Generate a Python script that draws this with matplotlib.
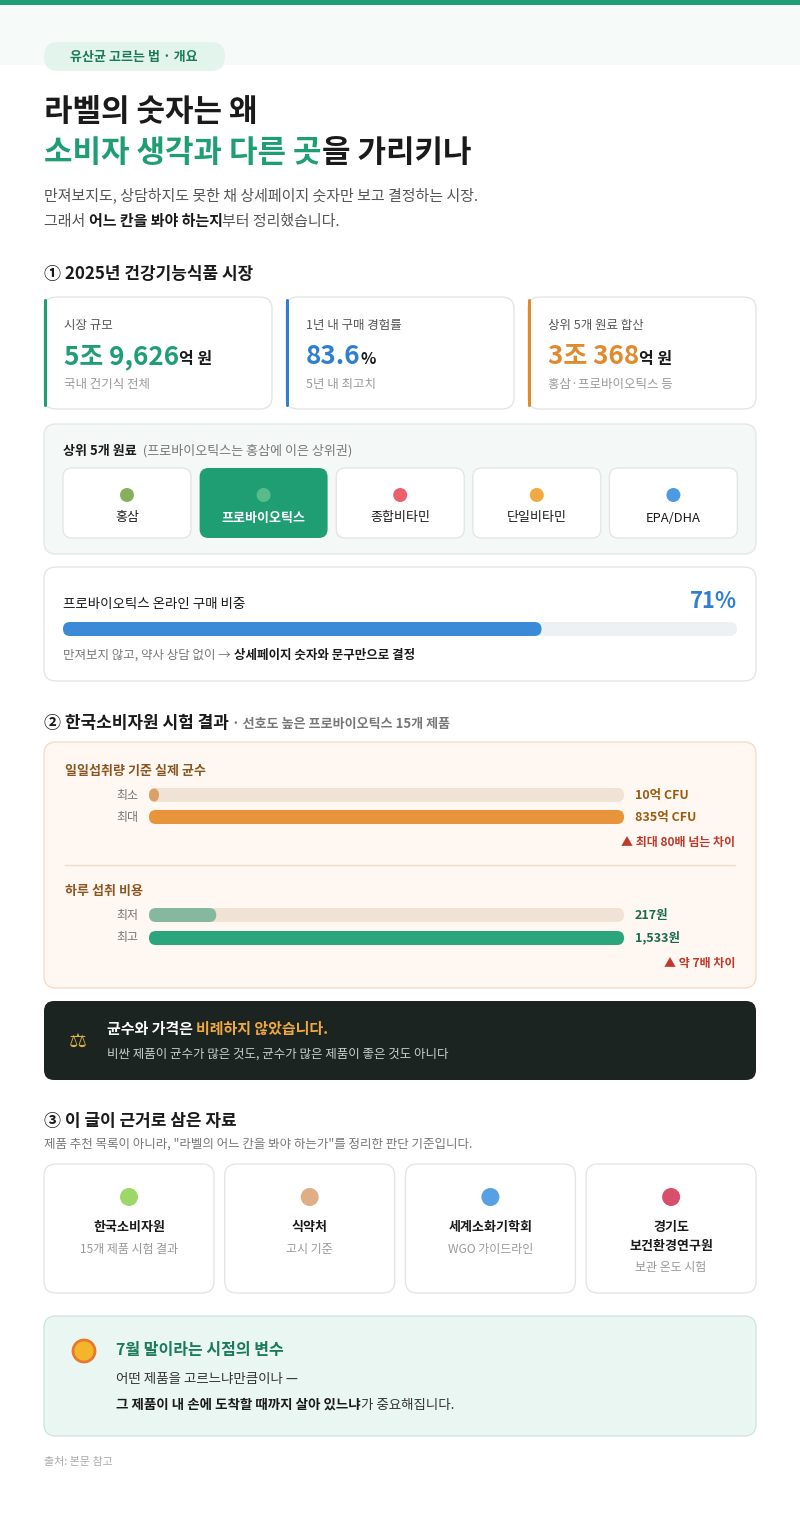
import matplotlib
matplotlib.use("Agg")
import matplotlib.pyplot as plt
from matplotlib.patches import FancyBboxPatch, Rectangle, Circle

plt.rcParams["font.family"] = ["Noto Sans CJK KR", "DejaVu Sans"]

# ---- data ----
kpi_labels = ["시장 규모", "1년 내 구매 경험률", "상위 5개 원료 합산"]
kpi_big = [["5조 9,626", "억 원"], ["83.6", "%"], ["3조 368", "억 원"]]
kpi_subs = ["국내 건기식 전체", "5년 내 최고치", "홍삼·프로바이오틱스 등"]
kpi_colors = ["#1f9e74", "#2f7fd0", "#e08a2c"]

top5 = ["홍삼", "프로바이오틱스", "종합비타민", "단일비타민", "EPA/DHA"]
top5_icon_colors = ["#7aa84a", "#5fbf8c", "#e8505b", "#f0a030", "#3a8fe0"]

online_share = 71

cfu_labels = ["최소", "최대"]
cfu_values = [10, 835]          # 억 CFU
cfu_text = ["10억 CFU", "835억 CFU"]
cost_labels = ["최저", "최고"]
cost_values = [217, 1533]       # 원
cost_text = ["217원", "1,533원"]

sources = ["한국소비자원", "식약처", "세계소화기학회", "경기도\n보건환경연구원"]
source_subs = ["15개 제품 시험 결과", "고시 기준", "WGO 가이드라인", "보관 온도 시험"]
source_icon_colors = ["#8cd050", "#d9a070", "#3a8fe0", "#d03050"]

GREEN = "#1f9e74"
DARK = "#1a1a1a"
GRAY = "#777777"

fig = plt.figure(figsize=(8, 15.2), dpi=100)
ax = fig.add_axes([0, 0, 1, 1])
ax.set_xlim(0, 800)
ax.set_ylim(1520, 0)
ax.axis("off")
fig.patch.set_facecolor("white")
renderer = fig.canvas.get_renderer()


def pt(px):
    return px * 0.72


def box(x, y, w, h, fc="white", ec="#e3e6e8", r=12, lw=1, z=1):
    p = FancyBboxPatch((x, y), w, h, boxstyle=f"round,pad=0,rounding_size={r}",
                       fc=fc, ec=ec, lw=lw, zorder=z, mutation_aspect=1)
    ax.add_patch(p)
    return p


def run(x, y, segs, ha="left"):
    # segs: (text, px, color, weight)
    items = []
    total = 0
    for s, px, c, wgt in segs:
        t = ax.text(0, y, s, fontsize=pt(px), color=c, fontweight=wgt,
                    va="baseline", ha="left", zorder=5)
        wd = t.get_window_extent(renderer).width
        items.append((t, wd))
        total += wd
    if ha == "center":
        x = x - total / 2
    elif ha == "right":
        x = x - total
    for t, wd in items:
        t.set_x(x)
        x += wd


# top strip
ax.add_patch(Rectangle((0, 0), 800, 5, fc=GREEN, ec="none"))
ax.add_patch(Rectangle((0, 5), 800, 60, fc="#f6fbf9", ec="none", zorder=0))

# tag
box(44, 42, 181, 29, fc="#e3f4ed", ec="none", r=14)
ax.text(134, 57, "유산균 고르는 법 · 개요", fontsize=pt(13), color="#1a7a5a",
        fontweight="bold", ha="center", va="center")

# title
run(44, 121, [("라벨의 숫자는 왜", 31, DARK, "bold")])
run(44, 162, [("소비자 생각과 다른 곳", 31, GREEN, "bold"), ("을 가리키나", 31, DARK, "bold")])
run(44, 200, [("만져보지도, 상담하지도 못한 채 상세페이지 숫자만 보고 결정하는 시장.", 15, "#555555", "normal")])
run(44, 226, [("그래서 ", 15, "#555555", "normal"), ("어느 칸을 봐야 하는지", 15, DARK, "bold"),
              ("부터 정리했습니다.", 15, "#555555", "normal")])

# section 1
run(44, 279, [("① 2025년 건강기능식품 시장", 17, DARK, "bold")])
for i in range(3):
    x0 = 44 + i * 242
    box(x0, 297, 228, 112)
    ax.add_patch(FancyBboxPatch((x0, 299), 3, 108, boxstyle="round,pad=0,rounding_size=1.5",
                                fc=kpi_colors[i], ec="none", zorder=3))
    run(x0 + 20, 329, [(kpi_labels[i], 12.5, "#555555", "normal")])
    run(x0 + 20, 364, [(kpi_big[i][0], 26, kpi_colors[i], "bold"), (kpi_big[i][1], 16, DARK, "bold")])
    run(x0 + 20, 388, [(kpi_subs[i], 12.5, "#999999", "normal")])

box(44, 424, 712, 130, fc="#f4f8f7", ec="#e3e9e7")
run(63, 455, [("상위 5개 원료", 13, DARK, "bold"), ("  (프로바이오틱스는 홍삼에 이은 상위권)", 13, GRAY, "normal")])
for i, name in enumerate(top5):
    x0 = 63 + i * 136.6
    sel = i == 1
    box(x0, 468, 128, 70, fc=GREEN if sel else "white", ec="none" if sel else "#e3e6e8", r=9)
    ax.add_patch(Circle((x0 + 64, 495), 7, fc=top5_icon_colors[i], ec="none", zorder=4, alpha=0.9))
    ax.text(x0 + 64, 518, name, fontsize=pt(13), color="white" if sel else DARK,
            fontweight="bold" if sel else "normal", ha="center", va="center", zorder=5)

box(44, 567, 712, 114)
run(63, 608, [("프로바이오틱스 온라인 구매 비중", 13.5, DARK, "normal")])
run(737, 608, [(f"{online_share}%", 22, "#2f7fd0", "bold")], ha="right")
bw = 674
box(63, 622, bw, 14, fc="#eef1f4", ec="none", r=7, z=2)
box(63, 622, bw * online_share / 100, 14, fc="#3a8ad8", ec="none", r=7, z=3)
run(63, 659, [("만져보지 않고, 약사 상담 없이 → ", 12.5, GRAY, "normal"),
              ("상세페이지 숫자와 문구만으로 결정", 12.5, DARK, "bold")])

# section 2
run(44, 728, [("② 한국소비자원 시험 결과", 17, DARK, "bold"),
              (" · 선호도 높은 프로바이오틱스 15개 제품", 13, GRAY, "bold")])
box(44, 742, 712, 246, fc="#fff7f1", ec="#f5ddc9")
run(65, 775, [("일일섭취량 기준 실제 균수", 13, "#8a5520", "bold")])
BX, BW = 149, 475
cfu_max = max(cfu_values)
cfu_cols = ["#dba066", "#e8943a"]
for j in range(2):
    yc = 795 + j * 22
    box(BX, yc - 7, BW, 14, fc="#f0e2d4", ec="none", r=7, z=2)
    w = max(BW * cfu_values[j] / cfu_max, 10)
    box(BX, yc - 7, w, 14, fc=cfu_cols[j], ec="none", r=7, z=3)
    ax.text(138, yc, cfu_labels[j], fontsize=pt(12), color=GRAY, ha="right", va="center")
    ax.text(635, yc, cfu_text[j], fontsize=pt(12.5), color="#9a5a10", fontweight="bold", va="center")
run(735, 846, [("▲ 최대 80배 넘는 차이", 12, "#c0392b", "bold")], ha="right")
ax.plot([65, 735], [865, 865], color="#f0dccb", lw=1)
run(65, 895, [("하루 섭취 비용", 13, "#8a5520", "bold")])
cost_max = max(cost_values)
cost_cols = ["#86b8a0", "#2aa57c"]
for j in range(2):
    yc = 915 + j * 23
    box(BX, yc - 7, BW, 14, fc="#f0e2d4", ec="none", r=7, z=2)
    box(BX, yc - 7, BW * cost_values[j] / cost_max, 14, fc=cost_cols[j], ec="none", r=7, z=3)
    ax.text(138, yc, cost_labels[j], fontsize=pt(12), color=GRAY, ha="right", va="center")
    ax.text(635, yc, cost_text[j], fontsize=pt(12.5), color="#1a6a50", fontweight="bold", va="center")
run(735, 967, [("▲ 약 7배 차이", 12, "#c0392b", "bold")], ha="right")

# dark callout
box(44, 1001, 712, 79, fc="#1b2421", ec="none", r=10)
ax.text(78, 1041, "⚖", fontsize=pt(20), color="#e0b040", ha="center", va="center",
        family="DejaVu Sans", zorder=5)
run(107, 1034, [("균수와 가격은 ", 15, "white", "bold"), ("비례하지 않았습니다.", 15, "#f0a840", "bold")])
run(107, 1058, [("비싼 제품이 균수가 많은 것도, 균수가 많은 제품이 좋은 것도 아니다", 12.5, "#c8d0cc", "normal")])

# section 3
run(44, 1126, [("③ 이 글이 근거로 삼은 자료", 17, DARK, "bold")])
run(44, 1148, [("제품 추천 목록이 아니라, \"라벨의 어느 칸을 봐야 하는가\"를 정리한 판단 기준입니다.", 12.5, GRAY, "normal")])
for i in range(4):
    x0 = 44 + i * 180.7
    box(x0, 1164, 170, 129)
    cx = x0 + 85
    ax.add_patch(Circle((cx, 1197), 9, fc=source_icon_colors[i], ec="none", zorder=4, alpha=0.85))
    lines = sources[i].split("\n")
    for k, ln in enumerate(lines):
        ax.text(cx, 1227 + k * 19, ln, fontsize=pt(13), color=DARK, fontweight="bold",
                ha="center", va="center")
    ax.text(cx, 1249 + (len(lines) - 1) * 19, source_subs[i], fontsize=pt(12), color="#999999",
            ha="center", va="center")

# bottom note
box(44, 1316, 712, 120, fc="#eaf6f1", ec="#cfe7dc", r=12)
ax.add_patch(Circle((84, 1351), 11, fc="#f3b52c", ec="#e8782a", lw=2, zorder=4))
run(116, 1355, [("7월 말이라는 시점의 변수", 16, "#1a7a5a", "bold")])
run(116, 1383, [("어떤 제품을 고르느냐만큼이나 —", 13.5, "#333333", "normal")])
run(116, 1409, [("그 제품이 내 손에 도착할 때까지 살아 있느냐", 13.5, DARK, "bold"),
                ("가 중요해집니다.", 13.5, "#333333", "normal")])
run(44, 1465, [("출처: 본문 참고", 11, "#aaaaaa", "normal")])

fig.savefig("out.png", dpi=100, facecolor="white")
